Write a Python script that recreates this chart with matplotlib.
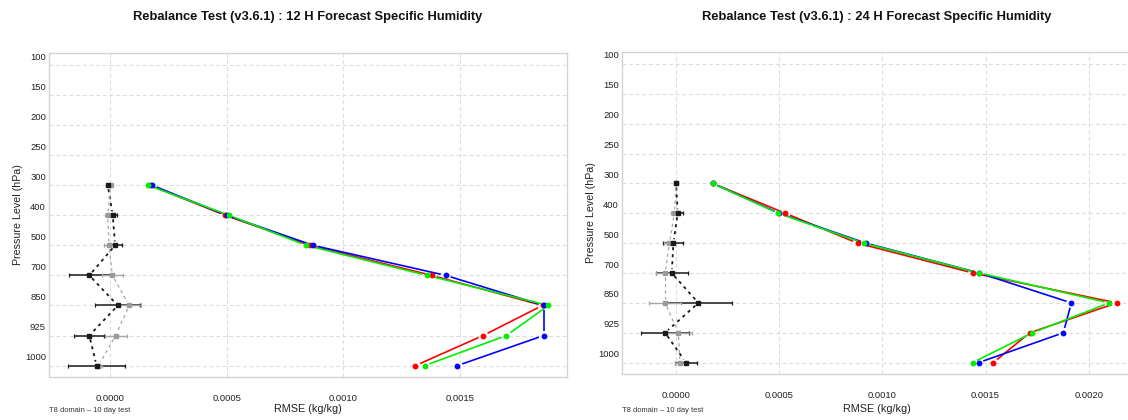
import numpy as np
import matplotlib
matplotlib.use("Agg")
import matplotlib.pyplot as plt
from matplotlib.transforms import ScaledTranslation, blended_transform_factory

plt.rcParams['font.family'] = ['Liberation Sans', 'DejaVu Sans']

# Pressure levels shown on the y axis (equally spaced categories)
levels = [100, 150, 200, 250, 300, 400, 500, 700, 850, 925, 1000]
data_levels = [300, 400, 500, 700, 850, 925, 1000]

# 12 H forecast RMSE (kg/kg)
rmse12_red = [0.000170, 0.000494, 0.000858, 0.00138, 0.001855, 0.00160, 0.00131]
rmse12_green = [0.000163, 0.000510, 0.000841, 0.00136, 0.00188, 0.00170, 0.00135]
rmse12_blue = [0.000180, 0.000500, 0.000871, 0.00144, 0.00186, 0.00186, 0.00149]

# 12 H forecast differences with confidence intervals
diff12_black = [-0.000010, 0.0000115, 0.0000215, -0.000089, 0.000033, -0.000089, -0.000058]
err12_black = [0.000004, 0.000020, 0.000030, 0.000087, 0.000097, 0.000064, 0.000123]
diff12_grey = [0.000003, -0.000010, -0.000005, 0.000010, 0.000082, 0.000024, -0.000050]
err12_grey = [0.000004, 0.000011, 0.000020, 0.000046, 0.000049, 0.000047, 0.000015]

# 24 H forecast RMSE (kg/kg)
rmse24_red = [0.000178, 0.000530, 0.000880, 0.00144, 0.002136, 0.001714, 0.001537]
rmse24_green = [0.000178, 0.000496, 0.000910, 0.00147, 0.00210, 0.001727, 0.001437]
rmse24_blue = [0.000178, 0.000500, 0.000920, 0.00147, 0.001916, 0.001877, 0.001466]

# 24 H forecast differences with confidence intervals
diff24_black = [0.000000, 0.000008, -0.000013, -0.000021, 0.000108, -0.000053, 0.0000485]
err24_black = [0.000004, 0.000026, 0.000048, 0.000078, 0.000165, 0.000117, 0.000054]
diff24_grey = [0.000000, -0.000008, -0.0000325, -0.000053, -0.000053, 0.000011, 0.000019]
err24_grey = [0.000005, 0.000016, 0.000027, 0.000043, 0.000077, 0.000066, 0.000024]

titles = ["Rebalance Test (v3.6.1) : 12 H Forecast Specific Humidity",
          "Rebalance Test (v3.6.1) : 24 H Forecast Specific Humidity"]
footnote = "T8 domain \u2013 10 day test"
xlabel = "RMSE (kg/kg)"
ylabel = "Pressure Level (hPa)"

W, H = 1128, 420
DPI = 100
fig = plt.figure(figsize=(W / DPI, H / DPI), dpi=DPI)


def px_axes(left, top, right, bottom):
    return fig.add_axes([left / W, 1 - bottom / H, (right - left) / W, (bottom - top) / H])


def type_b(ax, x, y, color, lw, gap=5.0, dashes=None, marker='o', ms=3.2, z=3,
           draw_markers=True):
    """Points joined by segments that stop short of each point."""
    pts = ax.transData.transform(np.column_stack([x, y]))
    inv = ax.transData.inverted()
    for p0, p1 in zip(pts[:-1], pts[1:]):
        d = p1 - p0
        L = np.hypot(*d)
        if L <= 2 * gap:
            continue
        u = d / L
        q = inv.transform(np.array([p0 + u * gap, p1 - u * gap]))
        kw = dict(color=color, lw=lw, zorder=z, solid_capstyle='butt', dash_capstyle='butt')
        if dashes is not None:
            kw['dashes'] = dashes
        ax.plot(q[:, 0], q[:, 1], **kw)
    if draw_markers:
        ax.plot(x, y, ls='none', marker=marker, ms=ms, color=color, mec=color,
                zorder=z + 0.5)


panels = [
    dict(box=(49, 53, 567, 377), xlim=(-0.000262, 0.00196),
         xticks=[0.0, 0.0005, 0.0010, 0.0015],
         red=rmse12_red, green=rmse12_green, blue=rmse12_blue,
         db=diff12_black, eb=err12_black, dg=diff12_grey, eg=err12_grey),
    dict(box=(622, 52, 1131, 374), xlim=(-0.000262, 0.002205),
         xticks=[0.0, 0.0005, 0.0010, 0.0015, 0.0020],
         red=rmse24_red, green=rmse24_green, blue=rmse24_blue,
         db=diff24_black, eb=err24_black, dg=diff24_grey, eg=err24_grey),
]

frame_col = '#d4d4d4'
grid_col = '#dcdcdc'
black = '#1a1a1a'
grey = '#a6a6a6'
text_col = '#222222'

for i, p in enumerate(panels):
    left, top, right, bottom = p['box']
    ax = px_axes(left, top, right, bottom)
    ax.set_xlim(*p['xlim'])
    ax.set_ylim(10.38, -0.4)
    ypos = np.arange(len(levels))
    ax.set_yticks(ypos)
    ax.set_yticklabels([])
    ax.set_xticks(p['xticks'])
    ax.set_xticklabels([f"{v:.4f}" for v in p['xticks']], fontsize=6.8, color=text_col)
    ax.tick_params(length=0, pad=12)
    for s in ax.spines.values():
        s.set_color(frame_col)
        s.set_linewidth(1.0)
    ax.grid(True, color=grid_col, lw=0.8, dashes=(3.5, 2.5))
    ax.set_axisbelow(True)

    # y labels sit slightly above their grid lines
    off = ScaledTranslation(-3 / DPI, 8 / DPI, fig.dpi_scale_trans)
    tr = blended_transform_factory(ax.transAxes, ax.transData) + off
    for k, lev in enumerate(levels):
        ax.text(0, k, str(lev), transform=tr, ha='right', va='center',
                fontsize=6.8, color=text_col)

    yi = np.array([levels.index(l) for l in data_levels], dtype=float)

    # differences with error bars
    type_b(ax, p['db'], yi, black, 1.3, gap=4.0, dashes=(1.7, 2.2), draw_markers=False, z=2)
    type_b(ax, p['dg'], yi, grey, 0.9, gap=4.0, dashes=(2.6, 2.6), draw_markers=False, z=2)
    ax.errorbar(p['db'], yi, xerr=p['eb'], fmt='none', ecolor=black, elinewidth=1.1,
                capsize=1.6, capthick=0.9, zorder=3)
    ax.errorbar(p['dg'], yi, xerr=p['eg'], fmt='none', ecolor=grey, elinewidth=1.0,
                capsize=1.6, capthick=0.9, zorder=3.2)
    ax.plot(p['dg'], yi, ls='none', marker='s', ms=2.8, color='#9a9a9a', zorder=3.4)
    ax.plot(p['db'], yi, ls='none', marker='s', ms=2.8, color=black, zorder=3.5)

    # RMSE profiles
    type_b(ax, p['red'], yi, '#ff0000', 1.2, z=4)
    type_b(ax, p['blue'], yi, '#0000ff', 1.2, z=4.2)
    type_b(ax, p['green'], yi, '#00ee00', 1.2, z=4.4)

    w = right - left
    h = bottom - top
    ax.text(0.5, 1 + (top - 17) / h, titles[i], transform=ax.transAxes, ha='center',
            va='center', fontsize=9.3, fontweight='bold', color='#111111')
    ax.text(0.5, -(409 - bottom) / h, xlabel, transform=ax.transAxes, ha='center',
            va='center', fontsize=7.8, color=text_col)
    ax.text(-31 / w, 0.5, ylabel, transform=ax.transAxes, ha='center', va='center',
            rotation=90, fontsize=7.7, color=text_col)
    ax.text(0.0, -(410 - bottom) / h, footnote, transform=ax.transAxes, ha='left',
            va='center', fontsize=5.4, color='#333333')

fig.savefig("out.png", dpi=DPI)
